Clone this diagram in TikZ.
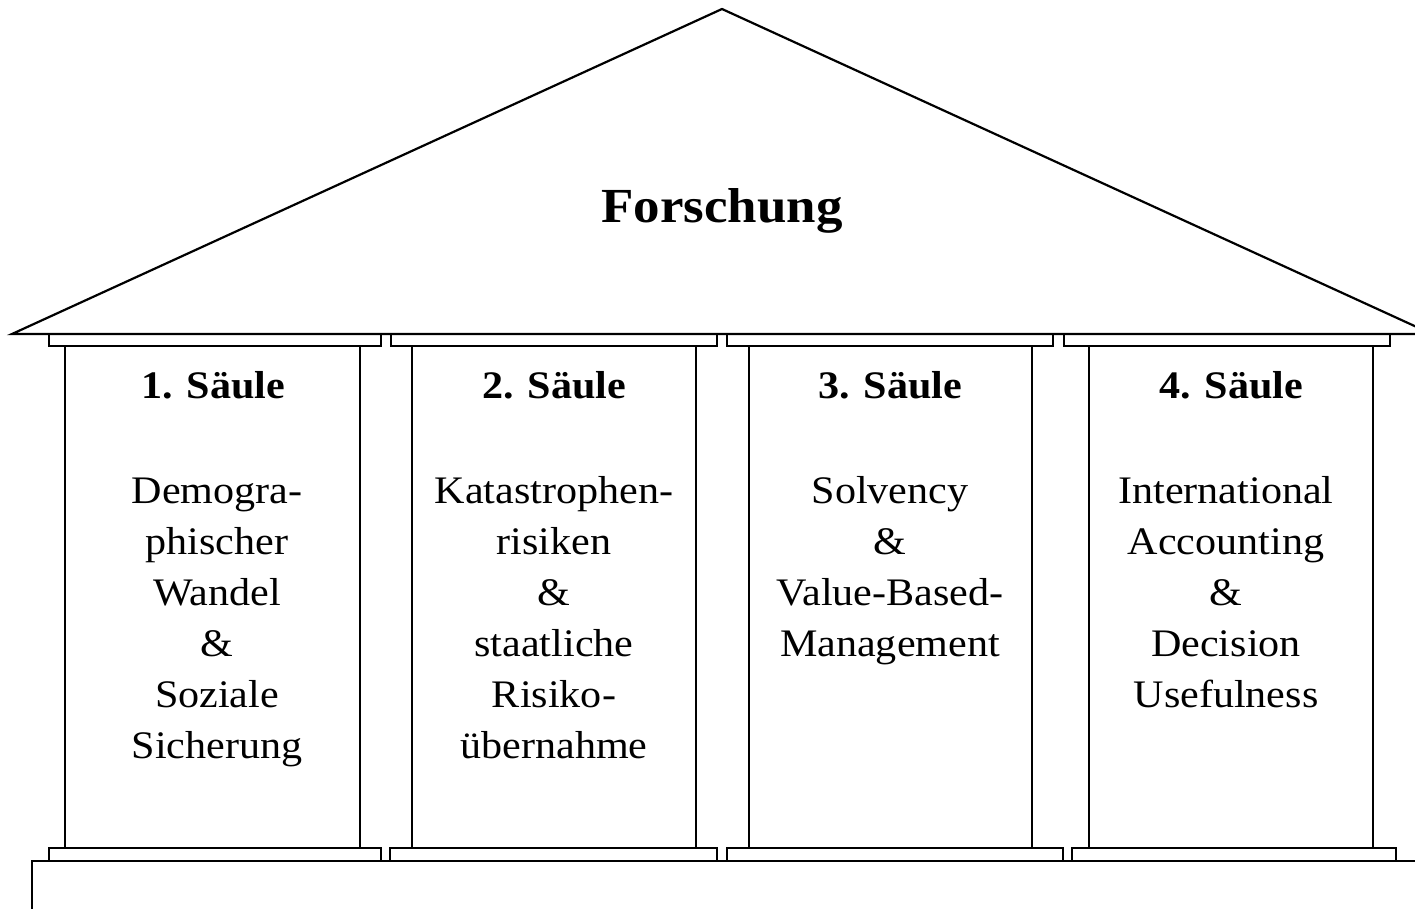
\documentclass[tikz,border=0pt]{standalone}
\usepackage{fontspec}
\setmainfont{Liberation Serif}[FakeStretch=1.08]

\begin{document}
\begin{tikzpicture}[x=0.5pt, y=-0.5pt,
        part/.style={draw=black, line width=1.1pt},
        title/.style={anchor=base, font=\bfseries\fontsize{19.5}{25.5}\selectfont},
        topic/.style={anchor=north, inner sep=0pt, align=center, font=\fontsize{19.5}{25.5}\selectfont}]
            \clip (0,0) rectangle (1415,909);

            % Dach
            \draw[part] (12,334) -- (722,9) -- (1432,334) -- cycle;
            \node[anchor=base, font=\bfseries\fontsize{24.5}{30}\selectfont] (roof) at (722,223) {Forschung};

            % Kapitelle oben
            \draw[part] (49,334) rectangle (381,346);
            \draw[part] (391,334) rectangle (717,346);
            \draw[part] (727,334) rectangle (1053,346);
            \draw[part] (1064,334) rectangle (1390,346);

            % Saeulen
            \draw[part] (65,346) rectangle (360,848);
            \draw[part] (412,346) rectangle (696,848);
            \draw[part] (749,346) rectangle (1032,848);
            \draw[part] (1089,346) rectangle (1373,848);

            % Kapitelle unten und Sockel
            \draw[part] (49,848) rectangle (381,861);
            \draw[part] (390,848) rectangle (717,861);
            \draw[part] (727,848) rectangle (1063,861);
            \draw[part] (1072,848) rectangle (1396,861);
            \draw[part] (32,861) rectangle (1450,950);

            \node[title] (s1) at (213,399) {1. Säule};
            \node[title] (s2) at (554,399) {2. Säule};
            \node[title] (s3) at (890,399) {3. Säule};
            \node[title] (s4) at (1231,399) {4. Säule};

            \node[topic] (t1) at (217,473) {\rule{0pt}{15pt}Demogra-\\phischer\\Wandel\\\&\\Soziale\\Sicherung};
            \node[topic] (t2) at (554,473) {\rule{0pt}{15pt}Katastrophen-\\risiken\\\&\\staatliche\\Risiko-\\übernahme};
            \node[topic] (t3) at (890,473) {\rule{0pt}{15pt}Solvency\\\&\\Value-Based-\\Management};
            \node[topic] (t4) at (1226,473) {\rule{0pt}{15pt}International\\Accounting\\\&\\Decision\\Usefulness};
        \end{tikzpicture}
\end{document}
